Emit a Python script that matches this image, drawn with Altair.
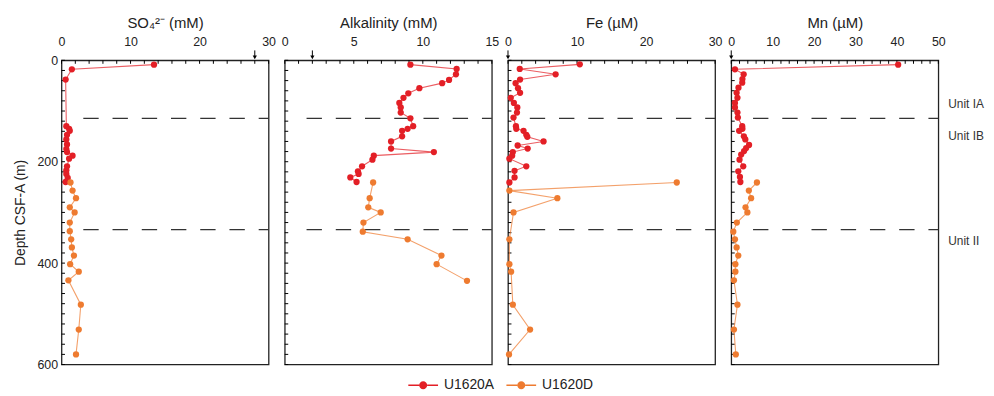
import altair as alt
import pandas as pd
import numpy as np

RED = "#E31F26"
ORANGE = "#EE7B30"
SITES = ["U1620A", "U1620D"]

# ---------------- data ----------------
so4_A_depth = [8.5, 17.7, 38, 130, 135, 139, 147, 156, 166, 175, 181, 188, 194, 209, 217, 224, 232, 240]
so4_A_val = [13.4, 1.5, 0.6, 0.7, 1.1, 1.2, 0.8, 0.7, 0.8, 0.7, 0.8, 1.6, 1.1, 0.8, 0.7, 0.7, 0.9, 0.6]
so4_D_depth = [241, 257, 272, 290, 300, 320, 337, 353, 369, 385, 402, 417, 434, 482, 531, 580]
so4_D_val = [1.3, 1.6, 2.1, 1.2, 1.9, 1.2, 1.2, 1.4, 1.5, 1.8, 1.25, 2.5, 1.0, 2.8, 2.5, 2.1]

alk_A_depth = [8.5, 17, 27.5, 38.6, 45, 55, 65, 74, 84, 93, 103, 114.5, 130, 135, 139, 150, 160, 174,
               181, 188, 196, 209, 219, 224, 231, 240]
alk_A_val = [9.1, 12.45, 12.4, 11.9, 11.4, 9.75, 8.95, 8.6, 8.3, 8.4, 8.4, 9.1, 9.3, 8.9, 8.5, 8.5, 7.7, 7.7,
             10.8, 6.45, 6.35, 5.6, 5.3, 5.35, 4.75, 5.2]
alk_D_depth = [241, 272, 290, 300, 320, 338, 353, 385, 402, 435]
alk_D_val = [6.4, 6.15, 6.05, 6.95, 5.7, 5.65, 8.9, 11.35, 11.0, 13.2]

fe_A_depth = [8, 17, 27.5, 38, 45, 55, 64, 74, 84, 93, 103, 113, 130, 135, 139, 147, 151, 160, 168, 174,
              181, 188, 194, 209, 218, 231, 241]
fe_A_val = [10.4, 1.7, 6.9, 1.75, 1.1, 1.45, 1.75, 0.4, 0.85, 1.35, 1.3, 0.8, 1.15, 1.2, 2.25, 2.65, 2.8,
            5.15, 1.4, 2.85, 0.7, 0.6, 0.2, 2.65, 0.95, 0.95, 0.2]
fe_D_depth = [241, 257, 272, 300, 353, 402, 417, 482, 531, 580]
fe_D_val = [24.45, 0.2, 7.15, 0.8, 0.2, 0.2, 0.45, 0.7, 3.2, 0.15]

mn_A_depth = [8.5, 17.7, 27.5, 37, 44, 54, 64, 74, 84, 93, 103, 113, 130, 135, 139, 150, 156, 167, 173,
              179, 186, 196, 209, 219, 230, 240]
mn_A_val = [40.3, 0.9, 3.0, 2.7, 2.65, 1.75, 1.3, 1.5, 0.9, 0.9, 1.5, 1.6, 2.65, 2.7, 1.9, 3.05, 3.4, 4.3,
            3.6, 3.1, 2.4, 2.0, 2.9, 1.7, 2.1, 2.2]
mn_D_depth = [241, 257, 272, 290, 300, 320, 338, 353, 369, 385, 402, 417, 434, 482, 531, 580]
mn_D_val = [6.2, 4.25, 4.8, 3.45, 3.9, 1.35, 0.5, 0.9, 1.3, 1.7, 1.0, 1.0, 0.65, 1.5, 0.65, 1.1]

titles = ["SO\u2084\u00b2\u207b (mM)", "Alkalinity (mM)", "Fe (\u00b5M)", "Mn (\u00b5M)"]
domains = [[0, 30], [0, 15], [0, 30], [0, 50]]
label_values = [[0, 10, 20, 30], [0, 5, 10, 15], [0, 10, 20, 30], [0, 10, 20, 30, 40, 50]]
minor_steps = [2, 1, 2, 2]
seawater = [28, 2, 0, 0]

unit_boundaries = [114.5, 334]
unit_names = ["Unit IA", "Unit IB", "Unit II"]
unit_label_depths = [86, 149, 357]

depth_labels = [0, 200, 400, 600]
depth_minor_step = 20

series = [
    (so4_A_depth, so4_A_val, so4_D_depth, so4_D_val),
    (alk_A_depth, alk_A_val, alk_D_depth, alk_D_val),
    (fe_A_depth, fe_A_val, fe_D_depth, fe_D_val),
    (mn_A_depth, mn_A_val, mn_D_depth, mn_D_val),
]

W, H = 209, 307
FONT = "Liberation Sans"

legend_path = ("M-1,-0.05L-0.27,-0.05L-0.27,0.05L-1,0.05Z "
               "M0.27,-0.05L1,-0.05L1,0.05L0.27,0.05Z "
               "M-0.27,0A0.27,0.27 0 1,0 0.27,0A0.27,0.27 0 1,0 -0.27,0Z")
legend = alt.Legend(title=None, orient="none", direction="horizontal", legendX=350, legendY=313,
                    symbolType=legend_path, symbolSize=900, symbolOpacity=1, symbolStrokeWidth=0,
                    labelFontSize=14, labelFont=FONT, labelColor="#222", labelOffset=6,
                    columnPadding=12, padding=0)
color = alt.Color("site:N", scale=alt.Scale(domain=SITES, range=[RED, ORANGE]), legend=legend)


def make_panel(i):
    dA, vA, dD, vD = series[i]
    df = pd.DataFrame({
        "depth": dA + dD,
        "value": vA + vD,
        "site": [SITES[0]] * len(dA) + [SITES[1]] * len(dD),
    })
    xaxis = alt.Axis(orient="top", values=label_values[i], title=titles[i], ticks=False, tickSize=0,
                     domain=False, grid=False, labelPadding=12, titlePadding=5, labelFontSize=12.5,
                     titleFontSize=15, titleFontWeight="normal", labelFont=FONT, titleFont=FONT,
                     labelColor="#222", titleColor="#222", labelFlush=False, labelOverlap=False)
    xscale = alt.Scale(domain=domains[i], nice=False, zero=False)
    if i == 0:
        yaxis = alt.Axis(values=depth_labels, title="Depth CSF-A (m)", ticks=False, tickSize=0, domain=False,
                         grid=False, labelPadding=4, titlePadding=9, labelFontSize=12.5, titleFontSize=14,
                         titleFontWeight="normal", labelFont=FONT, titleFont=FONT, labelColor="#222",
                         titleColor="#222")
    else:
        yaxis = None
    yscale = alt.Scale(domain=[0, 600], reverse=True, nice=False, zero=False)

    def X(f):
        return alt.X(f, type="quantitative", scale=xscale, axis=xaxis)

    def Y(f):
        return alt.Y(f, type="quantitative", scale=yscale, axis=yaxis)

    base = alt.Chart(df)
    line = base.mark_line(strokeWidth=1.1, opacity=0.72).encode(
        x=X("value"), y=Y("depth"), color=color, order=alt.Order("depth:Q"))
    pts = base.mark_circle(size=40, opacity=1).encode(x=X("value"), y=Y("depth"), color=color)

    lo, hi = domains[i]
    xt = pd.DataFrame({"t": np.arange(lo, hi + 1e-9, minor_steps[i])})
    xticks = alt.Chart(xt).mark_rule(color="#000", strokeWidth=1).encode(
        x=X("t"), y=alt.value(0), y2=alt.value(3.5))
    yt = pd.DataFrame({"t": np.arange(0, 600 + 1e-9, depth_minor_step)})
    yticks = alt.Chart(yt).mark_rule(color="#000", strokeWidth=1).encode(
        y=Y("t"), x=alt.value(0), x2=alt.value(3.5))

    bd = pd.DataFrame({"b": unit_boundaries})
    dashes = alt.Chart(bd).mark_rule(color="#333", strokeWidth=1.3, strokeDash=[15.5, 14]).encode(
        y=Y("b"), x=alt.value(22), x2=alt.value(W))

    sw = pd.DataFrame({"s": [seawater[i]]})
    arrow_stem = alt.Chart(sw).mark_rule(color="#000", strokeWidth=1).encode(
        x=X("s"), y=alt.value(-10), y2=alt.value(-3))
    arrow_head = alt.Chart(sw).mark_point(shape="triangle-down", filled=True, color="#000", size=18,
                                          opacity=1).encode(x=X("s"), y=alt.value(-3))

    layers = [yticks, xticks, dashes, arrow_stem, arrow_head, line, pts]
    if i == 3:
        ud = pd.DataFrame({"name": unit_names, "d": unit_label_depths})
        units = alt.Chart(ud).mark_text(align="left", baseline="middle", fontSize=12, font=FONT,
                                        color="#333").encode(
            y=Y("d"), x=alt.value(W + 10), text="name:N")
        layers.append(units)
    return alt.layer(*layers).properties(width=W, height=H)


chart = alt.hconcat(*[make_panel(i) for i in range(4)], spacing=16.3, bounds="flush").properties(
    padding={"left": 5, "top": 5, "right": 1, "bottom": 5}
).configure(font=FONT, background="white").configure_view(stroke="#222", strokeWidth=1.3)

chart.save("out.html", embed_options={"renderer": "svg", "actions": False})
